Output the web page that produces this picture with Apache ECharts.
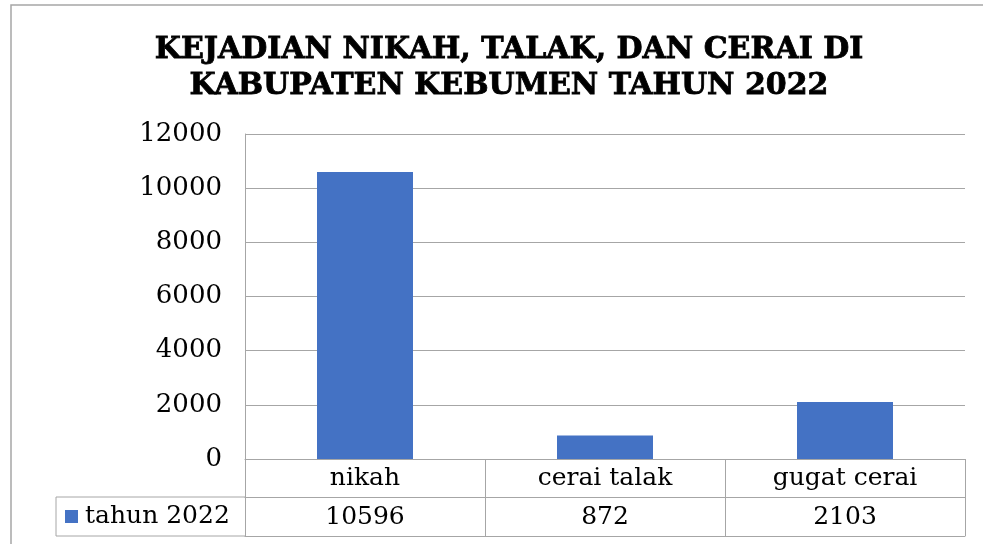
<!DOCTYPE html>
<html>
<head>
    <meta charset="utf-8">
    <title>Kejadian Nikah, Talak, dan Cerai</title>
    <script src="https://cdn.jsdelivr.net/npm/echarts@6/dist/echarts.min.js"></script>
</head>
<body style="margin:0">
    <div id="main" style="width: 983px;height:544px;"></div>
    <script type="text/javascript">

var categories = ['nikah', 'cerai talak', 'gugat cerai'];
var seriesName = 'tahun 2022';
var values = [10596, 872, 2103];
var yTicks = [0, 2000, 4000, 6000, 8000, 10000, 12000];

var lineColor = '#A6A6A6';
var fontFam = '"DejaVu Serif", serif';

var myChart = echarts.init(document.getElementById('main'));

var option = {
    backgroundColor: '#ffffff',
    animation: false,
    title: {
        text: 'KEJADIAN NIKAH, TALAK, DAN CERAI DI\nKABUPATEN KEBUMEN TAHUN 2022',
        left: 504,
        top: 27,
        textAlign: 'center',
        textStyle: {
            color: '#000',
            fontFamily: fontFam,
            fontWeight: 'bold',
            fontSize: 30,
            lineHeight: 36,
            textBorderColor: '#000',
            textBorderWidth: 0.8
        }
    },
    legend: {
        data: [seriesName],
        left: 65,
        top: 504,
        padding: 0,
        icon: 'rect',
        itemWidth: 13,
        itemHeight: 13,
        textStyle: { color: '#000', fontFamily: fontFam, fontSize: 25, padding: [0, 0, 0, 2] }
    },
    grid: { left: 245, right: 18, top: 134, bottom: 85 },
    xAxis: [{
        type: 'category',
        data: categories,
        axisLine: { lineStyle: { color: lineColor, width: 1 } },
        axisTick: { show: true, length: 77, alignWithLabel: false, lineStyle: { color: lineColor } },
        axisLabel: { color: '#000', fontFamily: fontFam, fontSize: 25, margin: 7 }
    }, {
        type: 'category',
        position: 'bottom',
        offset: 38,
        data: values.map(String),
        axisLine: { lineStyle: { color: lineColor, width: 1 } },
        axisTick: { show: false },
        axisLabel: { color: '#000', fontFamily: fontFam, fontSize: 25, margin: 8 }
    }, {
        type: 'category',
        position: 'bottom',
        offset: 77,
        data: categories,
        axisLine: { lineStyle: { color: lineColor, width: 1 } },
        axisTick: { show: false },
        axisLabel: { show: false }
    }],
    yAxis: {
        type: 'value',
        min: yTicks[0],
        max: yTicks[yTicks.length - 1],
        interval: yTicks[1] - yTicks[0],
        axisLine: { show: true, lineStyle: { color: lineColor } },
        axisTick: { show: false },
        splitLine: { lineStyle: { color: lineColor } },
        axisLabel: {
            color: '#000', fontFamily: fontFam, fontSize: 26, margin: 23,
            formatter: function (v) { return String(v); }
        }
    },
    graphic: [
        { type: 'rect', shape: { x: 11, y: 5, width: 1100, height: 600 }, style: { fill: null, stroke: lineColor, lineWidth: 1.5 }, z: -1 },
        { type: 'line', shape: { x1: 56, y1: 497, x2: 245, y2: 497 }, style: { stroke: lineColor, lineWidth: 1 } },
        { type: 'line', shape: { x1: 56, y1: 536, x2: 245, y2: 536 }, style: { stroke: lineColor, lineWidth: 1 } },
        { type: 'line', shape: { x1: 56, y1: 497, x2: 56, y2: 536 }, style: { stroke: lineColor, lineWidth: 1 } }
    ],
    series: [{
        name: seriesName,
        type: 'bar',
        data: values,
        barWidth: '40%',
        itemStyle: { color: '#4472C4' }
    }]
};

myChart.setOption(option);

    </script>
</body>
</html>
